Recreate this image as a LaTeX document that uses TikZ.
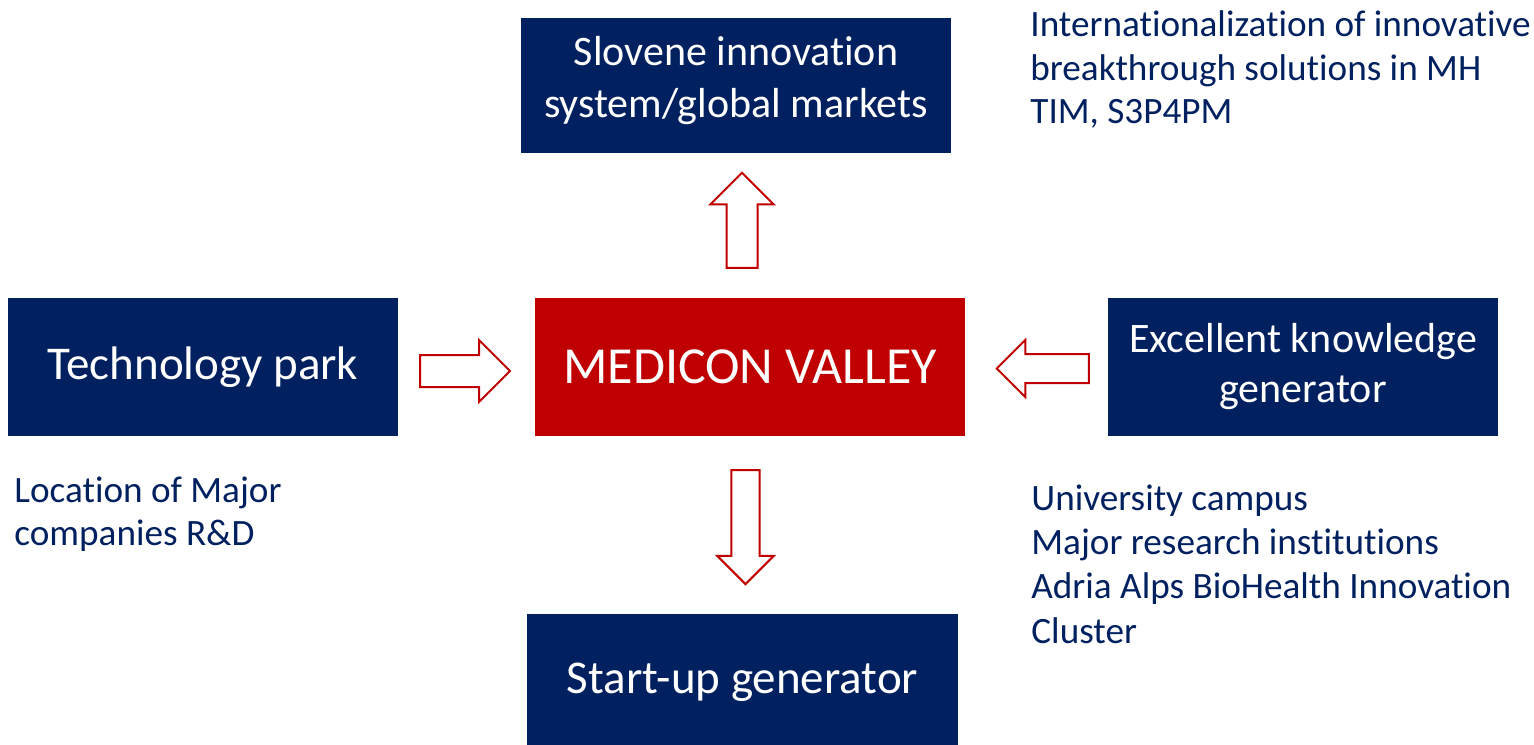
\documentclass[tikz,border=0pt]{standalone}
\usepackage{fontspec}
\setmainfont{Carlito}[Ligatures={NoCommon}]
\usetikzlibrary{shapes.arrows}

\definecolor{navy}{RGB}{0,32,96}
\definecolor{mvred}{RGB}{192,0,0}

\begin{document}
\begin{tikzpicture}[x=0.5pt, y=-0.5pt,
    navybox/.style={fill=navy, text=white, align=center, inner sep=0pt},
    fatarrow/.style={single arrow, draw=mvred, fill=white, line width=1pt,
        inner sep=0pt, minimum width=0pt, single arrow tip angle=90},
    note/.style={text=navy, anchor=base west, inner sep=0pt,
        font=\fontsize{18.6}{22}\selectfont}]
    \useasboundingbox (0,0) rectangle (1534,744);

    % boxes
    \node[navybox, minimum width=215pt, minimum height=67.5pt, text depth=9pt,
        font=\fontsize{21}{26}\selectfont] (market) at (736,85.5)
        {Slovene innovation\\system/global markets};
    \node[navybox, minimum width=195pt, minimum height=69pt,
        font=\fontsize{23.5}{28}\selectfont] (techpark) at (203,367) {Technology park};
    \node[fill=mvred, text=white, inner sep=0pt, minimum width=215pt, minimum height=69pt,
        font=\fontsize{26}{30}\selectfont] (medicon) at (750,367) {MEDICON VALLEY};
    \node[navybox, minimum width=195pt, minimum height=69pt,
        font=\fontsize{21}{25}\selectfont] (knowledge) at (1303,367)
        {Excellent knowledge\\generator};
    \node[navybox, minimum width=215.5pt, minimum height=68pt,
        font=\fontsize{23.5}{28}\selectfont] (startup) at (742.5,682) {Start-up generator};

    % block arrows
    \node[fatarrow, rotate=90, minimum height=47.5pt, inner ysep=7.25pt,
        single arrow head extend=8pt] (uparrow) at (742,228) {};
    \node[fatarrow, minimum height=45pt, inner ysep=7.5pt,
        single arrow head extend=7.5pt] (leftarrow) at (457,371) {};
    \node[fatarrow, rotate=180, minimum height=46pt, inner ysep=6.75pt,
        single arrow head extend=7pt] (rightarrow) at (1050,368.5) {};
    \node[fatarrow, rotate=-90, minimum height=57pt, inner ysep=6.6pt,
        single arrow head extend=7pt] (downarrow) at (745.5,520) {};

    % notes
    \node[note] (intl1) at (1030,36) {Internationalization of innovative};
    \node[note] (intl2) at (1030,80) {breakthrough solutions in MH};
    \node[note] (intl3) at (1030,123) {TIM, S3P4PM};

    \node[note] (loc1) at (14,502) {Location of Major};
    \node[note] (loc2) at (14,545) {companies R\&D};

    \node[note] (uni1) at (1031,510) {University campus};
    \node[note] (uni2) at (1031,554) {Major research institutions};
    \node[note] (uni3) at (1031,598) {Adria Alps BioHealth Innovation};
    \node[note] (uni4) at (1031,643) {Cluster};
\end{tikzpicture}
\end{document}
